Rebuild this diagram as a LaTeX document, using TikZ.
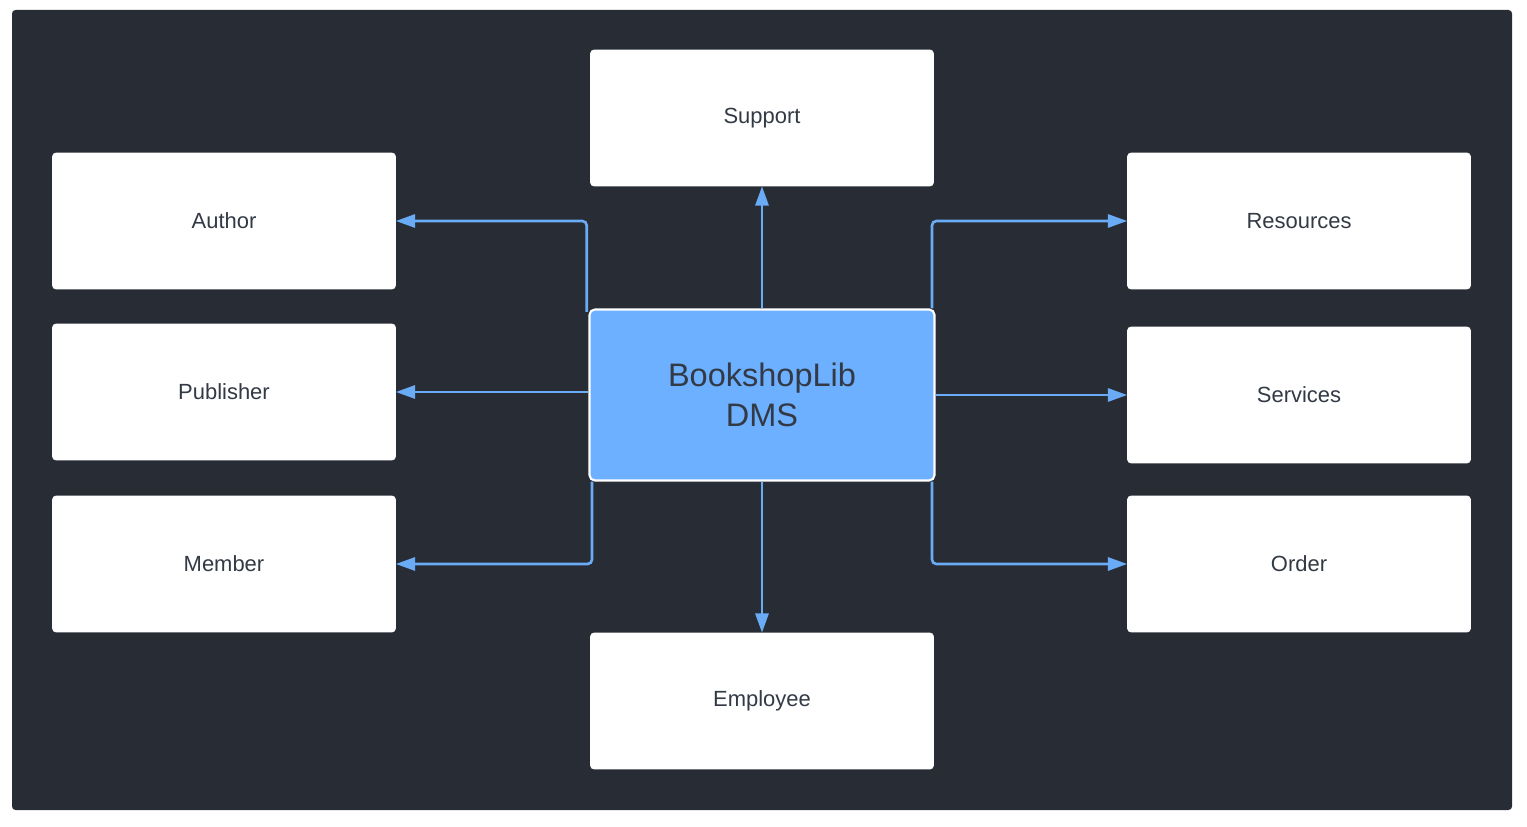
\documentclass[tikz,border=0pt]{standalone}
\usepackage{fontspec}
\setmainfont{Liberation Sans}
\usetikzlibrary{positioning}
\usetikzlibrary{arrows.meta}
\definecolor{panel}{HTML}{282C34}
\definecolor{dmsblue}{HTML}{6CB0FF}
\definecolor{linkblue}{HTML}{6AABF5}
\definecolor{labelgray}{HTML}{333A45}

\begin{document}
\begin{tikzpicture}[
  x=0.02cm, y=-0.02cm,
  every node/.style={font=\fontsize{12.5}{15}\selectfont, text=labelgray},
  entity/.style={
    fill=white, draw=white, rounded corners=2pt,
    minimum width=6.86cm, minimum height=2.72cm,
    align=center, inner sep=0pt
  },
  core/.style={
    fill=dmsblue, draw=white, line width=1.2pt, rounded corners=3pt,
    minimum width=6.9cm, minimum height=3.42cm, align=center,
    font=\fontsize{18.5}{23}\selectfont
  },
  arrow/.style={-{Triangle[length=11pt,width=7.5pt]}, linkblue, line width=1.5pt, rounded corners=2.5pt}
]

% Background
\useasboundingbox (0,0) rectangle (1527,827);
\fill[panel, rounded corners=2pt] (12,10) rectangle (1512,810);

% Nodes
\node[core] (dms) at (762,395) {BookshopLib\\DMS};
\node[entity] (support) at (762,118) {Support};
\node[entity] (employee) at (762,701) {Employee};
\node[entity] (author) at (224,221) {Author};
\node[entity] (publisher) at (224,392) {Publisher};
\node[entity] (member) at (224,564) {Member};
\node[entity] (resources) at (1299,221) {Resources};
\node[entity] (services) at (1299,395) {Services};
\node[entity] (order) at (1299,564) {Order};

% Arrows
\draw[arrow] (dms) -- (support);
\draw[arrow] (dms) -- (employee);
\draw[arrow] ([xshift=-1pt, yshift=-2pt]dms.north west) |- (author.east);
\draw[arrow] (publisher.east -| dms.west) -- (publisher.east);
\draw[arrow] ([xshift=2pt]dms.south west) |- (member.east);
\draw[arrow] ([xshift=-2pt]dms.north east) |- (resources.west);
\draw[arrow] (dms.east) -- (services.west);
\draw[arrow] ([xshift=-2pt]dms.south east) |- (order.west);
\end{tikzpicture}
\end{document}
